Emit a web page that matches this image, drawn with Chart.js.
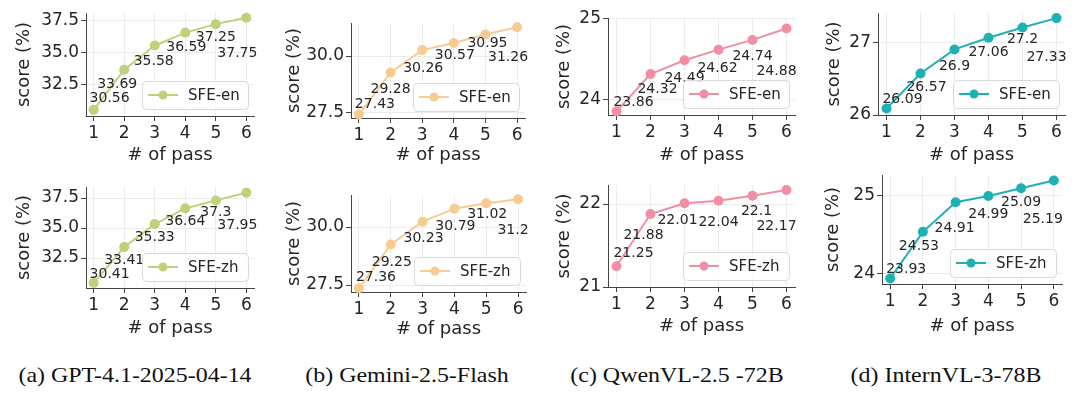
<!DOCTYPE html>
<html>
<head>
<meta charset="utf-8">
<script src="https://cdn.jsdelivr.net/npm/chart.js@4"></script>
<style>
  body { margin: 0; background: #fff; width: 1080px; height: 397px; position: relative; overflow: hidden; }
  .cell { position: absolute; }
  .cap {
    position: absolute; top: 363px; width: 300px; line-height: 24px;
    font-family: "Liberation Serif", "Times New Roman", serif; font-size: 21px;
    color: #111; white-space: nowrap; text-align: center; transform: scaleX(1.14);
  }
</style>
</head>
<body>
<script>
const passes = [1, 2, 3, 4, 5, 6];

const gptEn = [30.56, 33.69, 35.58, 36.59, 37.25, 37.75];
const geminiEn = [27.43, 29.28, 30.26, 30.57, 30.95, 31.26];
const qwenEn = [23.86, 24.32, 24.49, 24.62, 24.74, 24.88];
const internEn = [26.09, 26.57, 26.9, 27.06, 27.2, 27.33];

const gptZh = [30.41, 33.41, 35.33, 36.64, 37.3, 37.95];
const geminiZh = [27.36, 29.25, 30.23, 30.79, 31.02, 31.2];
const qwenZh = [21.25, 21.88, 22.01, 22.04, 22.1, 22.17];
const internZh = [23.93, 24.53, 24.91, 24.99, 25.09, 25.19];

const ticksGpt = [32.5, 35.0, 37.5];
const ticksGemini = [27.5, 30.0];
const ticksQwenEn = [24, 25];
const ticksInternEn = [26, 27];
const ticksQwenZh = [21, 22];
const ticksInternZh = [24, 25];

const captions = ['(a) GPT-4.1-2025-04-14', '(b) Gemini-2.5-Flash', '(c) QwenVL-2.5 -72B', '(d) InternVL-3-78B'];
const captionCenters = [135, 407, 677, 946];

const green = '#bdd27b', peach = '#f7cc92', pink = '#f08fa3', teal = '#1eb1b4';
const family = "'DejaVu Sans', sans-serif";
const ink = '#262626';

// area = [left, right, top, bottom] of the plot box in page pixels
const panels = [
  { data: gptEn, label: 'SFE-en', color: green, ticks: ticksGpt, dec: 1, col: 0, row: 0,
    area: [86, 254, 13, 116], y: [30.08, 38.12], titleX: 24, titleY: 155,
    offs: [[16, -11], [-7, 15], [-1, 16], [1, 15], [0, 13], [-9, 36]] },
  { data: geminiEn, label: 'SFE-en', color: peach, ticks: ticksGemini, dec: 1, col: 1, row: 0,
    area: [351, 525, 23, 118], y: [27.28, 31.45], titleX: 294, titleY: 155,
    offs: [[16, -10], [0, 17], [1, 18], [1, 12], [2, 9], [-9, 30]] },
  { data: qwenEn, label: 'SFE-en', color: pink, ticks: ticksQwenEn, dec: 0, col: 2, row: 0,
    area: [608, 795, 18, 115], y: [23.815, 25.01], titleX: 564, titleY: 155,
    offs: [[17, -9], [7, 15], [0, 18], [-1, 19], [0, 16], [-10, 43]] },
  { data: internEn, label: 'SFE-en', color: teal, ticks: ticksInternEn, dec: 0, col: 3, row: 0,
    area: [878, 1065, 13, 115], y: [26.0, 27.4], titleX: 834, titleY: 155,
    offs: [[16, -9], [6, 14], [0, 17], [0, 15], [0, 12], [-10, 39]] },
  { data: gptZh, label: 'SFE-zh', color: green, ticks: ticksGpt, dec: 1, col: 0, row: 1,
    area: [86, 254, 187, 288], y: [30.0, 38.42], titleX: 24, titleY: 328,
    offs: [[16, -9], [0, 13], [0, 13], [0, 13], [0, 12], [-9, 33]] },
  { data: geminiZh, label: 'SFE-zh', color: peach, ticks: ticksGemini, dec: 1, col: 1, row: 1,
    area: [351, 526, 195, 292], y: [27.2, 31.38], titleX: 294, titleY: 329,
    offs: [[17, -11], [1, 18], [1, 17], [1, 18], [1, 11], [-5, 31]] },
  { data: qwenZh, label: 'SFE-zh', color: pink, ticks: ticksQwenZh, dec: 0, col: 2, row: 1,
    area: [608, 795, 185, 287], y: [21.0, 22.23], titleX: 564, titleY: 326,
    offs: [[17, -13], [-7, 21], [-7, 17], [0, 22], [4, 16], [-10, 36]] },
  { data: internZh, label: 'SFE-zh', color: teal, ticks: ticksInternZh, dec: 0, col: 3, row: 1,
    area: [882, 1062, 175, 284], y: [23.86, 25.26], titleX: 833, titleY: 326,
    offs: [[16, -9], [-4, 15], [-1, 26], [0, 18], [0, 14], [-11, 39]] },
];

// value labels next to the points, then the legend box on top of them
const labelsAndLegend = {
  id: 'labelsAndLegend',
  afterDatasetsDraw(chart, args, opts) {
    const ctx = chart.ctx;
    const meta = chart.getDatasetMeta(0);
    const ds = chart.data.datasets[0];
    ctx.save();
    ctx.font = '14px ' + family;
    ctx.fillStyle = ink;
    ctx.textAlign = 'center';
    ctx.textBaseline = 'middle';
    meta.data.forEach((pt, i) => {
      const [dx, dy] = opts.offs[i];
      ctx.fillText(String(ds.data[i].y), pt.x + dx, pt.y + dy);
    });

    const a = chart.chartArea;
    const w = 106, h = 28;
    const x = a.right - 6 - w, y = a.bottom - 7 - h;
    ctx.beginPath();
    ctx.roundRect(x + 0.5, y + 0.5, w, h, 4);
    ctx.fillStyle = 'rgba(255,255,255,0.8)';
    ctx.fill();
    ctx.strokeStyle = '#d9d9d9';
    ctx.lineWidth = 1;
    ctx.stroke();
    const my = y + h / 2;
    ctx.beginPath();
    ctx.moveTo(x + 6, my);
    ctx.lineTo(x + 36, my);
    ctx.strokeStyle = opts.color;
    ctx.lineWidth = 2;
    ctx.stroke();
    ctx.beginPath();
    ctx.arc(x + 21, my, 4.5, 0, Math.PI * 2);
    ctx.fillStyle = opts.color;
    ctx.fill();
    ctx.font = '15px ' + family;
    ctx.fillStyle = ink;
    ctx.textAlign = 'left';
    ctx.fillText(ds.label, x + 46, my + 1);
    ctx.restore();
  }
};

Chart.defaults.font.family = family;

panels.forEach(p => {
  const left = p.col * 270, top = p.row * 170;
  const [l, r, t, b] = p.area;
  const div = document.createElement('div');
  div.className = 'cell';
  div.style.left = left + 'px';
  div.style.top = top + 'px';
  const cv = document.createElement('canvas');
  cv.width = 270;
  cv.height = 170;
  div.appendChild(cv);
  document.body.appendChild(div);

  const grid = { color: '#ececec', lineWidth: 1, tickColor: '#444', tickLength: 5 };
  const border = { color: '#444', width: 1 };

  new Chart(cv, {
    type: 'line',
    data: {
      datasets: [{
        label: p.label,
        data: passes.map((x, i) => ({ x, y: p.data[i] })),
        borderColor: p.color,
        backgroundColor: p.color,
        borderWidth: 2,
        pointRadius: 5,
        pointHoverRadius: 5,
        pointBorderWidth: 0,
        clip: false,
      }]
    },
    options: {
      responsive: false,
      animation: false,
      devicePixelRatio: 1,
      events: [],
      layout: { padding: { left: 0, right: left + 270 - r, top: t - top, bottom: 0 } },
      plugins: {
        legend: { display: false },
        tooltip: { enabled: false },
        labelsAndLegend: { offs: p.offs, color: p.color },
      },
      scales: {
        x: {
          type: 'linear', min: 0.75, max: 6.25,
          afterBuildTicks: s => { s.ticks = passes.map(v => ({ value: v })); },
          afterFit: s => { s.height = top + 170 - b; s.paddingLeft = 0; s.paddingRight = 0; },
          ticks: { font: { size: 17 }, color: ink, padding: 2, maxRotation: 0, callback: v => String(v) },
          grid, border,
          title: { display: true, text: '# of pass', color: ink, font: { size: 18 },
                   padding: { top: 0, bottom: top + 170 - p.titleY - 10.8 } },
        },
        y: {
          type: 'linear', min: p.y[0], max: p.y[1],
          afterBuildTicks: s => { s.ticks = p.ticks.map(v => ({ value: v })); },
          afterFit: s => { s.width = l - left; s.paddingTop = 0; s.paddingBottom = 0; },
          ticks: { font: { size: 17 }, color: ink, padding: 2, callback: v => v.toFixed(p.dec) },
          grid, border,
          title: { display: true, text: 'score (%)', color: ink, font: { size: 18 },
                   padding: { top: p.titleX - left - 10.8, bottom: 0 } },
        },
      },
    },
    plugins: [labelsAndLegend],
  });
});

captions.forEach((c, i) => {
  const d = document.createElement('div');
  d.className = 'cap';
  d.textContent = c;
  d.style.left = (captionCenters[i] - 150) + 'px';
  document.body.appendChild(d);
});
</script>
</body>
</html>
